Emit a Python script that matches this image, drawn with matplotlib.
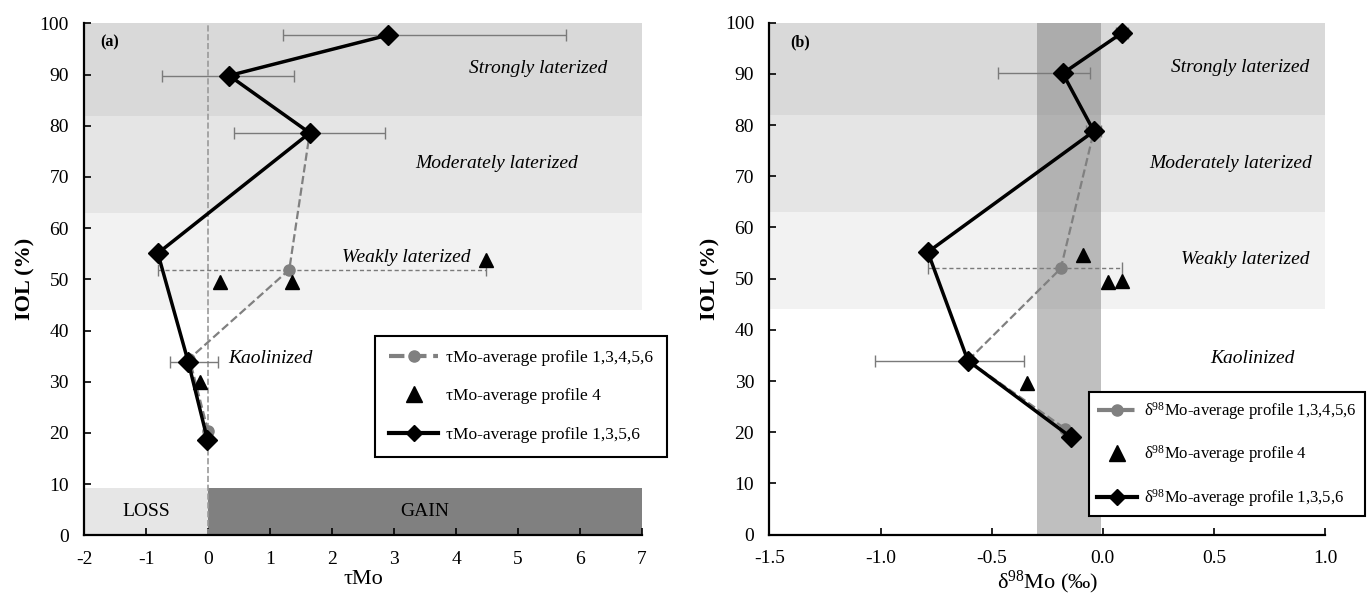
import matplotlib as mpl
mpl.use('Agg')

import matplotlib.pyplot as plt
from matplotlib.lines import Line2D
import numpy as np

plt.rcParams['font.family'] = ['Liberation Serif', 'DejaVu Serif']
plt.rcParams['mathtext.fontset'] = 'custom'
plt.rcParams['mathtext.rm'] = 'Liberation Serif'
plt.rcParams['mathtext.it'] = 'Liberation Serif:italic'
plt.rcParams['axes.unicode_minus'] = False

# ---- panel (a): tau Mo ----
iol_d_a = [97.7, 89.8, 78.6, 55.1, 33.9, 18.7]
tau_d = [2.90, 0.34, 1.64, -0.81, -0.32, -0.01]
tau_d_lo = [1.21, -0.74, 0.42, np.nan, -0.62, np.nan]
tau_d_hi = [5.78, 1.38, 2.86, np.nan, 0.16, np.nan]

iol_c_a = [97.7, 89.8, 78.6, 51.9, 34.5, 20.4]
tau_c = [2.90, 0.34, 1.64, 1.31, -0.30, 0.00]
tau_c_lo = [np.nan, np.nan, np.nan, -0.81, np.nan, np.nan]
tau_c_hi = [np.nan, np.nan, np.nan, 4.49, np.nan, np.nan]

iol_t_a = [53.8, 49.4, 49.4, 30.0]
tau_t = [4.49, 0.20, 1.36, -0.13]

# ---- panel (b): delta98 Mo ----
iol_d_b = [98.0, 90.1, 78.8, 55.2, 34.0, 19.0]
d98_d = [0.086, -0.18, -0.04, -0.787, -0.607, -0.142]
d98_d_lo = [0.06, -0.47, -0.074, np.nan, -1.024, np.nan]
d98_d_hi = [0.115, -0.056, -0.01, np.nan, -0.356, np.nan]

iol_c_b = [98.0, 90.1, 78.8, 52.0, 34.0, 20.7]
d98_c = [0.086, -0.18, -0.04, -0.189, -0.607, -0.169]
d98_c_lo = [np.nan, np.nan, np.nan, -0.785, np.nan, np.nan]
d98_c_hi = [np.nan, np.nan, np.nan, 0.088, np.nan, np.nan]

iol_t_b = [54.6, 49.4, 49.6, 29.7]
d98_t = [-0.09, 0.025, 0.088, -0.339]

zones = [(82, 100, '#d9d9d9'), (63, 82, '#e5e5e5'), (44, 63, '#f2f2f2')]


def errbars(ax, x, y, lo, hi, dashed=False):
    x = np.array(x); y = np.array(y)
    lo = np.array(lo); hi = np.array(hi)
    m = ~np.isnan(lo)
    eb = ax.errorbar(x[m], y[m], xerr=[x[m] - lo[m], hi[m] - x[m]], fmt='none',
                     ecolor='#7a7a7a', elinewidth=1, capsize=4, capthick=1, zorder=3)
    if dashed:
        eb[2][0].set_linestyle((0, (3, 2)))


def panel(ax, xs_d, ys_d, lo_d, hi_d, xs_c, ys_c, lo_c, hi_c, xs_t, ys_t, xmin, xmax):
    for y0, y1, c in zones:
        ax.fill_between([xmin, xmax], y0, y1, color=c, lw=0, zorder=0)
    errbars(ax, xs_d, ys_d, lo_d, hi_d)
    errbars(ax, xs_c, ys_c, lo_c, hi_c, dashed=True)
    ax.plot(xs_c, ys_c, '--', color='#808080', lw=1.6, marker='o', ms=8,
            mfc='#808080', mec='#808080', zorder=4)
    ax.plot(xs_t, ys_t, '^', color='black', ms=10.5, zorder=5, lw=0)
    ax.plot(xs_d, ys_d, '-', color='black', lw=2.5, marker='D', ms=10, zorder=6)
    ax.set_xlim(xmin, xmax)
    ax.set_ylim(0, 100)
    ax.set_yticks(range(0, 101, 10))
    ax.spines['top'].set_visible(False)
    ax.spines['right'].set_visible(False)
    ax.spines['left'].set_linewidth(1.6)
    ax.spines['bottom'].set_linewidth(1.6)
    ax.tick_params(axis='y', direction='in', length=5, width=1.2, labelsize=14, pad=11)
    ax.tick_params(axis='x', direction='in', length=5, width=1.2, labelsize=14, pad=11)
    ax.set_ylabel('IOL (%)', fontsize=16, fontweight='bold', labelpad=3)


fig = plt.figure(figsize=(13.69, 5.96), dpi=100)
ax1 = fig.add_axes([0.0614, 0.1018, 0.4076, 0.859])
ax2 = fig.add_axes([0.5620, 0.1029, 0.4059, 0.859])

# panel a
ax1.fill_between([-2, 0], 0, 9.2, color='#e6e6e6', lw=0, zorder=1)
ax1.fill_between([0, 7], 0, 9.2, color='#808080', lw=0, zorder=1)
ax1.axvline(0, color='#9a9a9a', ls='--', lw=1.2, zorder=2)
panel(ax1, tau_d, iol_d_a, tau_d_lo, tau_d_hi, tau_c, iol_c_a, tau_c_lo, tau_c_hi,
      tau_t, iol_t_a, -2, 7)
ax1.set_xticks(range(-2, 8))
ax1.set_xlabel('τMo', fontsize=16, labelpad=2)
ax1.text(-1.58, 96.2, '(a)', fontsize=11.5, fontweight='bold', ha='center', va='center')
ax1.text(5.33, 91.2, 'Strongly laterized', style='italic', fontsize=14, ha='center', va='center')
ax1.text(4.65, 72.7, 'Moderately laterized', style='italic', fontsize=14, ha='center', va='center')
ax1.text(3.19, 54.3, 'Weakly laterized', style='italic', fontsize=14, ha='center', va='center')
ax1.text(1.0, 34.6, 'Kaolinized', style='italic', fontsize=14, ha='center', va='center')
ax1.text(-1.0, 4.6, 'LOSS', fontsize=14, ha='center', va='center')
ax1.text(3.5, 4.6, 'GAIN', fontsize=14, ha='center', va='center')

# panel b
ax2.axvspan(-0.295, -0.006, color='#808080', alpha=0.5, lw=0, zorder=1)
panel(ax2, d98_d, iol_d_b, d98_d_lo, d98_d_hi, d98_c, iol_c_b, d98_c_lo, d98_c_hi,
      d98_t, iol_t_b, -1.5, 1.0)
ax2.set_xticks(np.arange(-1.5, 1.01, 0.5))
ax2.set_xticklabels(['%.1f' % v for v in np.arange(-1.5, 1.01, 0.5)])
ax2.set_xlabel(r'δ$^{98}$Mo (‰)', fontsize=16, labelpad=1)
ax2.text(-1.363, 96.2, '(b)', fontsize=11.5, fontweight='bold', ha='center', va='center')
ax2.text(0.62, 91.2, 'Strongly laterized', style='italic', fontsize=14, ha='center', va='center')
ax2.text(0.575, 72.5, 'Moderately laterized', style='italic', fontsize=14, ha='center', va='center')
ax2.text(0.64, 53.7, 'Weakly laterized', style='italic', fontsize=14, ha='center', va='center')
ax2.text(0.675, 34.4, 'Kaolinized', style='italic', fontsize=14, ha='center', va='center')


def legend(ax, prefix, anchor, fs, bpad, hlen):
    h = [Line2D([], [], color='#808080', ls='--', lw=3, marker='o', ms=8),
         Line2D([], [], color='black', lw=0, marker='^', ms=11),
         Line2D([], [], color='black', lw=3, marker='D', ms=8)]
    labels = [prefix + '-average profile 1,3,4,5,6',
              prefix + '-average profile 4',
              prefix + '-average profile 1,3,5,6']
    lg = ax.legend(h, labels, loc='upper left', bbox_to_anchor=anchor, fontsize=fs,
                   frameon=True, fancybox=False, edgecolor='black', framealpha=1,
                   labelspacing=1.3, borderpad=bpad, borderaxespad=0,
                   handlelength=hlen, handletextpad=0.45)
    lg.get_frame().set_linewidth(1.5)
    lg.set_zorder(10)


legend(ax1, 'τMo', (0.522, 0.39), 12.5, 0.8, 2.8)
legend(ax2, r'δ$^{98}$Mo', (0.576, 0.278), 12, 0.45, 2.4)

fig.savefig('out.png', dpi=100)
